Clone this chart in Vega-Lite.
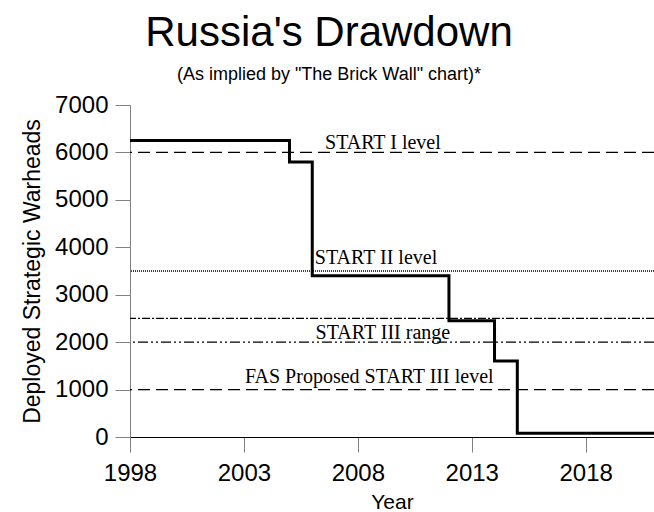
{
  "$schema": "https://vega.github.io/schema/vega-lite/v6.json",
  "autosize": "none",
  "width": 524,
  "height": 332,
  "padding": {"left": 130, "top": 105, "right": 0, "bottom": 75},
  "background": "white",
  "title": {
    "text": "Russia's Drawdown",
    "subtitle": "(As implied by \"The Brick Wall\" chart)*",
    "anchor": "middle",
    "dx": -63,
    "font": "Liberation Sans",
    "fontSize": 42,
    "fontWeight": "normal",
    "color": "black",
    "subtitleFont": "Liberation Sans",
    "subtitleFontSize": 18,
    "subtitleColor": "black",
    "subtitlePadding": 11,
    "offset": 8
  },
  "config": {
    "view": {"stroke": null},
    "axis": {"grid": false, "labelFont": "Liberation Sans", "titleFont": "Liberation Sans", "labelColor": "black", "titleColor": "black", "titleFontWeight": "normal"}
  },
  "datasets": {
    "steps": [
      {"year": 1998, "warheads": 6250},
      {"year": 2005, "warheads": 5800},
      {"year": 2006, "warheads": 3400},
      {"year": 2012, "warheads": 2450},
      {"year": 2014, "warheads": 1600},
      {"year": 2015, "warheads": 80},
      {"year": 2021, "warheads": 80}
    ],
    "levels": [
      {"level": 6000, "style": "START I"},
      {"level": 3500, "style": "START II"},
      {"level": 2500, "style": "START III high"},
      {"level": 2000, "style": "START III low"},
      {"level": 1000, "style": "FAS"}
    ],
    "labels": [
      {"label": "START I level", "year": 2009.1, "value": 6080},
      {"label": "START II level", "year": 2008.8, "value": 3640},
      {"label": "START III range", "year": 2009.1, "value": 2070},
      {"label": "FAS Proposed START III level", "year": 2008.5, "value": 1140}
    ]
  },
  "layer": [
    {
      "data": {"name": "levels"},
      "mark": {"type": "rule", "color": "black", "strokeWidth": 1.3},
      "encoding": {
        "y": {"field": "level", "type": "quantitative", "scale": {"domain": [0, 7000]}},
        "strokeDash": {
          "field": "style", "type": "nominal", "legend": null,
          "scale": {
            "domain": ["START I", "START II", "START III high", "START III low", "FAS"],
            "range": [[12, 6], [1, 1], [8, 2, 2, 2], [10, 3, 2, 3, 2, 3], [12, 6]]
          }
        }
      }
    },
    {
      "data": {"name": "steps"},
      "mark": {"type": "line", "interpolate": "step-after", "color": "black", "strokeWidth": 3},
      "encoding": {
        "x": {
          "field": "year", "type": "quantitative",
          "scale": {"domain": [1998, 2021], "nice": false},
          "axis": {
            "values": [1998, 2003, 2008, 2013, 2018], "format": "d",
            "title": "Year", "titleFontSize": 21, "titlePadding": 6,
            "labelFontSize": 24, "labelPadding": 9, "tickSize": 15,
            "tickColor": "#808080", "domainColor": "black",
            "labelFlush": false
          }
        },
        "y": {
          "field": "warheads", "type": "quantitative",
          "scale": {"domain": [0, 7000], "nice": false},
          "axis": {
            "values": [0, 1000, 2000, 3000, 4000, 5000, 6000, 7000], "format": "d",
            "title": "Deployed Strategic Warheads", "titleFontSize": 23, "titlePadding": 10,
            "labelFontSize": 24, "labelPadding": 7, "tickSize": 15,
            "tickColor": "#808080", "domainColor": "#808080"
          }
        }
      }
    },
    {
      "data": {"name": "labels"},
      "mark": {"type": "text", "font": "Liberation Serif", "fontSize": 20, "color": "black", "baseline": "alphabetic", "align": "center"},
      "encoding": {
        "x": {"field": "year", "type": "quantitative"},
        "y": {"field": "value", "type": "quantitative"},
        "text": {"field": "label"}
      }
    }
  ]
}
